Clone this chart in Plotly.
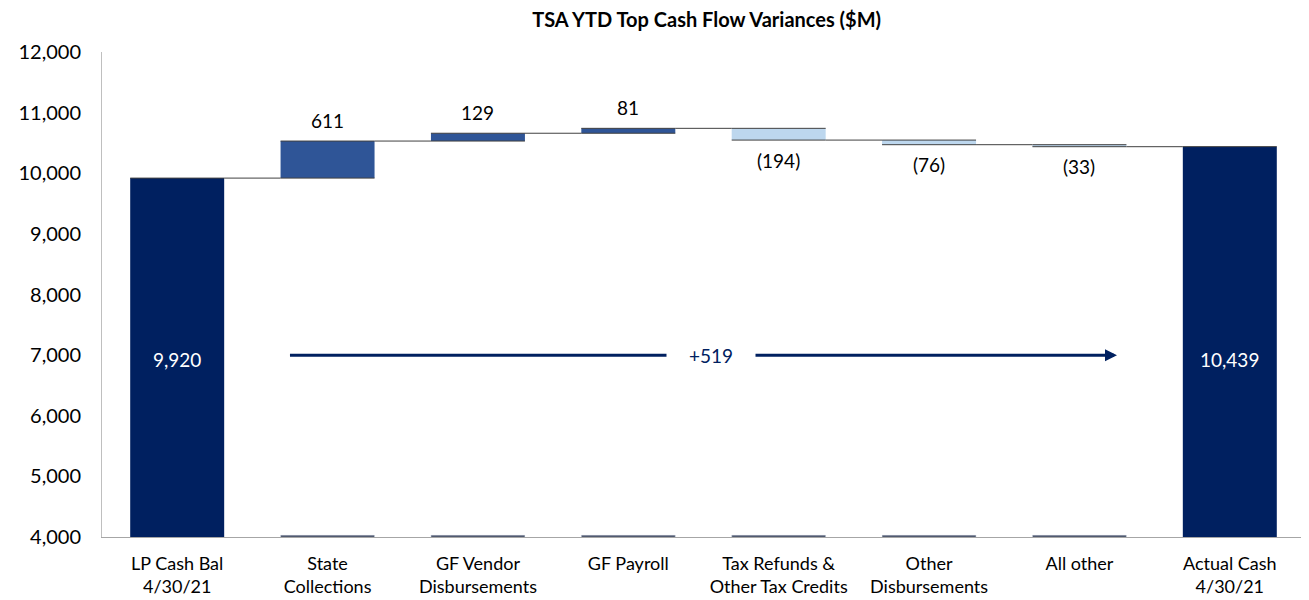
import plotly.graph_objects as go

categories = ["LP Cash Bal<br>4/30/21", "State<br>Collections", "GF Vendor<br>Disbursements",
              "GF Payroll", "Tax Refunds &<br>Other Tax Credits", "Other<br>Disbursements",
              "All other", "Actual Cash<br>4/30/21"]
values = [9920, 611, 129, 81, -194, -76, -33, 10439]
measures = ["absolute", "relative", "relative", "relative", "relative", "relative", "relative", "absolute"]
axis_base = 4000
label_level = 7000
net_change_label = "+519"
tick_vals = [4000, 5000, 6000, 7000, 8000, 9000, 10000, 11000, 12000]

NAVY = "#002060"
MID = "#2F5597"
LIGHT = "#BDD7EE"
FONT = "Lato, Carlito, Calibri, sans-serif"


def fmt(v, m):
    if m == "absolute":
        return f"{v:,}"
    return f"({abs(v):,})" if v < 0 else f"{v:,}"


y_plot = [v - axis_base if m == "absolute" else v for v, m in zip(values, measures)]

fig = go.Figure()
fig.add_trace(go.Waterfall(
    x=categories, y=y_plot, measure=measures, base=axis_base,
    increasing=dict(marker=dict(color=MID)),
    decreasing=dict(marker=dict(color=LIGHT)),
    totals=dict(marker=dict(color=NAVY)),
    connector=dict(line=dict(color="#404040", width=1), mode="spanning"),
    cliponaxis=False, hoverinfo="skip",
))

# thin dark base segments under floating bars
mid_cats = [c for c, m in zip(categories, measures) if m == "relative"]
fig.add_trace(go.Bar(x=mid_cats, y=[30] * len(mid_cats), base=axis_base,
                     marker=dict(color="#1F2A44"), hoverinfo="skip", showlegend=False))

# value labels
running = 0
for cat, v, m in zip(categories, values, measures):
    if m == "absolute":
        running = v
        fig.add_annotation(x=cat, y=label_level, text=fmt(v, m), showarrow=False, yshift=-4,
                           font=dict(size=19, color="white", family=FONT))
    else:
        running += v
        fig.add_annotation(x=cat, y=running, text=fmt(v, m), showarrow=False,
                           yshift=21 if v > 0 else -20,
                           font=dict(size=19, color="black", family=FONT))

# net change arrow
fig.add_annotation(x=6.25, y=label_level, ax=0.74, ay=label_level, xref="x", yref="y",
                   axref="x", ayref="y", text="", showarrow=True, arrowhead=2, arrowsize=0.8,
                   arrowwidth=3, arrowcolor=NAVY)
fig.add_annotation(x=3.55, y=label_level, xref="x", yref="y", text=net_change_label,
                   showarrow=False, bgcolor="white", borderpad=22,
                   font=dict(size=19, color=NAVY, family=FONT))

fig.update_layout(
    width=1301, height=592,
    margin=dict(l=94, r=4, t=44, b=63),
    paper_bgcolor="white", plot_bgcolor="white",
    showlegend=False,
    waterfallgap=0.375, bargap=0.375,
    title=dict(text="<b>TSA YTD Top Cash Flow Variances ($M)</b>", x=0.537, xanchor="center",
               y=0.979, yanchor="middle", font=dict(size=20, color="black", family=FONT)),
    font=dict(family=FONT, size=17, color="black"),
)
fig.update_yaxes(range=[4000, 12000], tickvals=tick_vals, tickformat=",", showgrid=False,
                 showline=True, linecolor="#BFBFBF", linewidth=1, ticks="", zeroline=False,
                 tickfont=dict(size=20, color="black", family=FONT), ticklabelstandoff=16)
fig.update_xaxes(showgrid=False, showline=True, linecolor="#A6A6A6", linewidth=1, ticks="",
                 tickfont=dict(size=18, color="black", family=FONT), ticklabelstandoff=10,
                 automargin=False)

fig.write_html("out.html")
